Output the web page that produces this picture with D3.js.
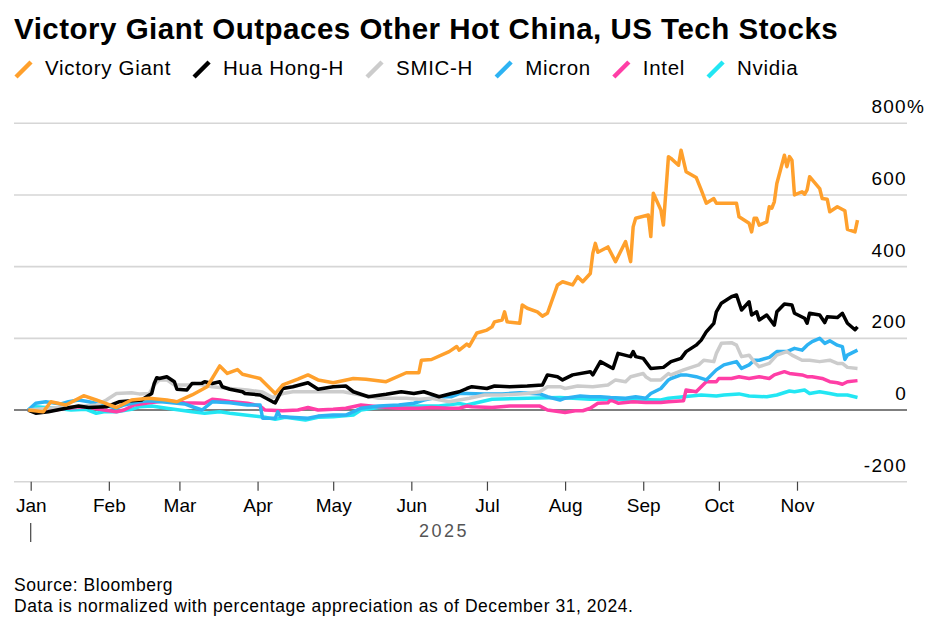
<!DOCTYPE html>
<html>
<head>
<meta charset="utf-8">
<script src="https://cdn.jsdelivr.net/npm/d3@7"></script>
<style>
  body { margin: 0; background: #fff; }
  svg { font-family: "Liberation Sans", Arial, sans-serif; }
</style>
</head>
<body>
<svg id="drawing_region"></svg>
<script>
// % appreciation since Dec 31, 2024
const victoryGiant = [["2024-12-31",0],["2025-01-06",-5],["2025-01-09",23],["2025-01-15",14],["2025-01-22",40],["2025-01-27",28],["2025-02-04",7],["2025-02-10",28],["2025-02-17",33],["2025-02-24",28],["2025-02-28",23],["2025-03-06",42],["2025-03-12",65],["2025-03-17",123],["2025-03-20",102],["2025-03-24",113],["2025-03-26",100],["2025-04-02",88],["2025-04-08",46],["2025-04-11",70],["2025-04-17",86],["2025-04-21",98],["2025-04-25",84],["2025-05-01",76],["2025-05-09",88],["2025-05-14",86],["2025-05-22",79],["2025-05-30",104],["2025-06-04",104],["2025-06-05",139],["2025-06-09",141],["2025-06-16",163],["2025-06-19",177],["2025-06-20",167],["2025-06-23",184],["2025-06-24",178],["2025-06-27",215],["2025-07-01",223],["2025-07-03",232],["2025-07-04",246],["2025-07-07",251],["2025-07-08",274],["2025-07-09",246],["2025-07-14",242],["2025-07-15",293],["2025-07-17",284],["2025-07-21",274],["2025-07-23",262],["2025-07-25",270],["2025-07-29",349],["2025-07-31",358],["2025-08-04",349],["2025-08-06",372],["2025-08-08",358],["2025-08-11",381],["2025-08-12",437],["2025-08-13",465],["2025-08-14",440],["2025-08-18",455],["2025-08-21",414],["2025-08-25",470],["2025-08-27",414],["2025-08-28",511],["2025-08-29",535],["2025-09-03",544],["2025-09-04",484],["2025-09-05",605],["2025-09-08",558],["2025-09-09",516],["2025-09-11",707],["2025-09-12",702],["2025-09-15",683],["2025-09-16",725],["2025-09-18",665],["2025-09-22",649],["2025-09-24",614],["2025-09-26",577],["2025-09-29",590],["2025-09-30",577],["2025-10-08",577],["2025-10-09",539],["2025-10-13",521],["2025-10-14",497],["2025-10-15",535],["2025-10-16",535],["2025-10-17",516],["2025-10-20",525],["2025-10-21",567],["2025-10-22",563],["2025-10-23",581],["2025-10-24",632],["2025-10-27",711],["2025-10-28",679],["2025-10-29",707],["2025-10-30",697],["2025-10-31",600],["2025-11-03",609],["2025-11-04",602],["2025-11-05",614],["2025-11-06",651],["2025-11-10",618],["2025-11-11",590],["2025-11-13",588],["2025-11-14",553],["2025-11-17",567],["2025-11-20",556],["2025-11-21",504],["2025-11-24",497],["2025-11-25",530]];

const huaHong = [["2024-12-31",0],["2025-01-03",-9],["2025-01-08",-5],["2025-01-15",5],["2025-01-20",11],["2025-01-24",7],["2025-01-31",9],["2025-02-05",23],["2025-02-10",26],["2025-02-14",28],["2025-02-18",46],["2025-02-19",74],["2025-02-20",90],["2025-02-21",88],["2025-02-24",93],["2025-02-27",79],["2025-02-28",58],["2025-03-04",56],["2025-03-06",74],["2025-03-10",75],["2025-03-11",79],["2025-03-14",74],["2025-03-17",79],["2025-03-18",65],["2025-03-21",58],["2025-03-26",51],["2025-03-27",46],["2025-04-02",42],["2025-04-07",23],["2025-04-08",20],["2025-04-11",60],["2025-04-15",65],["2025-04-21",76],["2025-04-25",58],["2025-05-01",65],["2025-05-06",67],["2025-05-09",51],["2025-05-15",37],["2025-05-22",44],["2025-05-28",51],["2025-06-02",46],["2025-06-06",51],["2025-06-12",37],["2025-06-17",46],["2025-06-20",51],["2025-06-23",60],["2025-06-25",65],["2025-07-01",60],["2025-07-04",67],["2025-07-10",65],["2025-07-17",67],["2025-07-23",70],["2025-07-25",98],["2025-07-29",93],["2025-07-31",84],["2025-08-04",98],["2025-08-11",107],["2025-08-12",98],["2025-08-15",135],["2025-08-20",116],["2025-08-22",158],["2025-08-27",149],["2025-08-28",163],["2025-08-29",149],["2025-09-01",144],["2025-09-04",116],["2025-09-09",119],["2025-09-12",135],["2025-09-16",144],["2025-09-18",163],["2025-09-22",181],["2025-09-24",195],["2025-09-26",218],["2025-09-29",242],["2025-09-30",274],["2025-10-02",298],["2025-10-06",316],["2025-10-08",321],["2025-10-10",279],["2025-10-13",302],["2025-10-14",265],["2025-10-16",274],["2025-10-17",251],["2025-10-20",265],["2025-10-23",237],["2025-10-24",274],["2025-10-27",296],["2025-10-30",293],["2025-10-31",270],["2025-11-04",256],["2025-11-05",242],["2025-11-06",270],["2025-11-10",265],["2025-11-12",244],["2025-11-13",260],["2025-11-17",258],["2025-11-19",270],["2025-11-21",242],["2025-11-24",224],["2025-11-25",232]];

const smic = [["2024-12-31",0],["2025-01-08",5],["2025-01-20",10],["2025-01-27",14],["2025-01-31",28],["2025-02-04",46],["2025-02-10",48],["2025-02-13",45],["2025-02-17",46],["2025-02-19",70],["2025-02-21",84],["2025-02-24",84],["2025-02-27",70],["2025-03-05",70],["2025-03-07",74],["2025-03-14",65],["2025-03-21",60],["2025-03-28",56],["2025-04-03",50],["2025-04-07",35],["2025-04-11",46],["2025-04-15",51],["2025-04-23",51],["2025-05-05",51],["2025-05-12",42],["2025-05-19",33],["2025-05-26",33],["2025-05-30",33],["2025-06-04",30],["2025-06-09",33],["2025-06-16",23],["2025-06-24",33],["2025-06-30",42],["2025-07-07",42],["2025-07-17",46],["2025-07-22",51],["2025-07-25",65],["2025-07-30",65],["2025-08-01",60],["2025-08-06",67],["2025-08-12",65],["2025-08-18",70],["2025-08-21",84],["2025-08-25",79],["2025-08-27",93],["2025-09-01",102],["2025-09-02",93],["2025-09-04",84],["2025-09-08",84],["2025-09-11",102],["2025-09-12",98],["2025-09-17",112],["2025-09-23",126],["2025-09-25",139],["2025-09-29",135],["2025-09-30",158],["2025-10-02",186],["2025-10-06",188],["2025-10-08",181],["2025-10-10",149],["2025-10-13",153],["2025-10-15",135],["2025-10-17",121],["2025-10-21",130],["2025-10-24",153],["2025-10-28",163],["2025-10-30",153],["2025-11-03",139],["2025-11-06",139],["2025-11-10",135],["2025-11-14",139],["2025-11-17",130],["2025-11-19",130],["2025-11-21",119],["2025-11-25",116]];

const micron = [["2024-12-31",0],["2025-01-03",19],["2025-01-07",23],["2025-01-13",17],["2025-01-16",23],["2025-01-20",28],["2025-01-24",23],["2025-01-30",14],["2025-02-04",5],["2025-02-07",14],["2025-02-13",23],["2025-02-17",26],["2025-02-24",22],["2025-03-03",17],["2025-03-07",7],["2025-03-10",0],["2025-03-14",23],["2025-03-21",20],["2025-03-28",14],["2025-04-02",14],["2025-04-03",-23],["2025-04-08",-23],["2025-04-09",-5],["2025-04-10",-18],["2025-04-14",-20],["2025-04-21",-23],["2025-04-25",-17],["2025-05-01",-14],["2025-05-06",-14],["2025-05-12",5],["2025-05-19",11],["2025-05-27",14],["2025-06-02",19],["2025-06-06",28],["2025-06-12",37],["2025-06-17",37],["2025-06-20",46],["2025-06-23",46],["2025-06-30",45],["2025-07-07",45],["2025-07-14",48],["2025-07-22",45],["2025-07-25",37],["2025-07-30",28],["2025-08-01",33],["2025-08-07",39],["2025-08-11",37],["2025-08-15",37],["2025-08-19",35],["2025-08-25",33],["2025-08-29",37],["2025-09-02",33],["2025-09-04",46],["2025-09-08",60],["2025-09-11",84],["2025-09-12",88],["2025-09-16",98],["2025-09-18",98],["2025-09-22",93],["2025-09-26",84],["2025-09-30",112],["2025-10-03",126],["2025-10-08",135],["2025-10-10",116],["2025-10-13",126],["2025-10-15",139],["2025-10-17",139],["2025-10-21",147],["2025-10-24",163],["2025-10-28",163],["2025-10-31",172],["2025-11-03",167],["2025-11-05",181],["2025-11-07",191],["2025-11-10",200],["2025-11-12",186],["2025-11-14",193],["2025-11-17",181],["2025-11-19",177],["2025-11-20",141],["2025-11-21",153],["2025-11-25",167]];

const intel = [["2024-12-31",0],["2025-01-06",-5],["2025-01-15",5],["2025-01-23",9],["2025-01-30",0],["2025-02-04",-5],["2025-02-07",0],["2025-02-11",14],["2025-02-17",20],["2025-02-24",26],["2025-03-03",20],["2025-03-11",19],["2025-03-14",30],["2025-03-17",28],["2025-03-21",24],["2025-03-28",19],["2025-04-02",11],["2025-04-04",0],["2025-04-11",-2],["2025-04-17",0],["2025-04-21",7],["2025-04-25",0],["2025-05-01",2],["2025-05-06",5],["2025-05-12",14],["2025-05-19",9],["2025-05-27",5],["2025-06-04",5],["2025-06-09",7],["2025-06-16",5],["2025-06-20",5],["2025-06-23",11],["2025-06-25",9],["2025-07-03",7],["2025-07-10",11],["2025-07-17",11],["2025-07-22",11],["2025-07-25",0],["2025-07-30",-5],["2025-08-01",-7],["2025-08-05",-2],["2025-08-08",-2],["2025-08-11",5],["2025-08-14",19],["2025-08-18",20],["2025-08-19",28],["2025-08-22",19],["2025-08-28",23],["2025-09-02",21],["2025-09-08",21],["2025-09-11",23],["2025-09-17",26],["2025-09-18",56],["2025-09-22",51],["2025-09-24",65],["2025-09-26",79],["2025-09-30",79],["2025-10-01",88],["2025-10-06",88],["2025-10-09",93],["2025-10-13",88],["2025-10-17",93],["2025-10-21",88],["2025-10-23",98],["2025-10-27",107],["2025-10-29",102],["2025-11-03",98],["2025-11-05",93],["2025-11-07",93],["2025-11-11",88],["2025-11-14",79],["2025-11-17",76],["2025-11-19",72],["2025-11-21",79],["2025-11-25",82]];

const nvidia = [["2024-12-31",0],["2025-01-03",9],["2025-01-11",5],["2025-01-17",0],["2025-01-23",2],["2025-01-27",-9],["2025-01-30",-5],["2025-02-04",-5],["2025-02-10",2],["2025-02-13",9],["2025-02-18",11],["2025-02-24",5],["2025-03-01",0],["2025-03-06",-5],["2025-03-11",-9],["2025-03-17",-5],["2025-03-21",-9],["2025-03-27",-14],["2025-04-04",-20],["2025-04-08",-26],["2025-04-12",-20],["2025-04-20",-28],["2025-04-25",-20],["2025-05-01",-19],["2025-05-09",-14],["2025-05-12",0],["2025-05-19",7],["2025-05-27",9],["2025-06-04",11],["2025-06-12",11],["2025-06-20",18],["2025-06-23",14],["2025-07-03",30],["2025-07-17",33],["2025-07-30",35],["2025-08-11",30],["2025-08-25",30],["2025-09-08",28],["2025-09-11",33],["2025-09-17",37],["2025-09-24",42],["2025-09-30",39],["2025-10-03",42],["2025-10-09",45],["2025-10-13",39],["2025-10-20",37],["2025-10-24",42],["2025-10-29",53],["2025-10-31",51],["2025-11-04",56],["2025-11-06",46],["2025-11-10",51],["2025-11-14",46],["2025-11-17",42],["2025-11-21",42],["2025-11-25",35]];

const seriesNames = ["Victory Giant", "Hua Hong-H", "SMIC-H", "Micron", "Intel", "Nvidia"];
const seriesData = [victoryGiant, huaHong, smic, micron, intel, nvidia];
const seriesColors = ["#ffa02c", "#000000", "#cccccc", "#2db3f3", "#ff3ea6", "#22e6f3"];
const yTicks = [-200, 0, 200, 400, 600, 800];

const config = {
    width: 941,
    height: 627,
    left: 14,
    right: 907,
    top: 123.3,
    bottom: 481.7
};

const parse = d3.timeParse("%Y-%m-%d");

const svg = d3.select("#drawing_region")
    .attr("width", config.width)
    .attr("height", config.height);

// title
svg.append("text")
    .attr("x", 14).attr("y", 39)
    .attr("font-size", 29.5).attr("font-weight", "bold")
    .attr("letter-spacing", 0.5)
    .attr("fill", "#000")
    .text("Victory Giant Outpaces Other Hot China, US Tech Stocks");

// legend
let lx = 16;
seriesNames.forEach((name, i) => {
    svg.append("line")
        .attr("x1", lx).attr("y1", 77)
        .attr("x2", lx + 15).attr("y2", 62)
        .attr("stroke", seriesColors[i])
        .attr("stroke-width", 4.5);
    const t = svg.append("text")
        .attr("x", lx + 29).attr("y", 75)
        .attr("font-size", 20.5)
        .attr("letter-spacing", 0.7)
        .attr("fill", "#000")
        .text(name);
    lx = lx + 29 + t.node().getComputedTextLength() + 23;
});

// scales
const xscale = d3.scaleTime()
    .domain([parse("2025-01-01"), parse("2025-11-01")])
    .range([30.7, 797]);

const yscale = d3.scaleLinear()
    .domain([-200, 800])
    .range([config.bottom, config.top]);

// gridlines
svg.append("g")
    .selectAll("line")
    .data(yTicks)
    .join("line")
    .attr("x1", config.left).attr("x2", config.right)
    .attr("y1", d => yscale(d)).attr("y2", d => yscale(d))
    .attr("stroke", d => d === 0 ? "#000" : "#d6d6d6")
    .attr("stroke-width", d => d === 0 ? 1.2 : 1.6);

// y labels
svg.append("g")
    .selectAll("text")
    .data(yTicks)
    .join("text")
    .attr("x", config.right)
    .attr("y", d => yscale(d) - 10)
    .attr("text-anchor", "end")
    .attr("font-size", 19)
    .attr("letter-spacing", 1.3)
    .attr("fill", "#000")
    .text(d => d);

svg.append("text")
    .attr("x", config.right)
    .attr("y", yscale(800) - 10)
    .attr("font-size", 19)
    .attr("fill", "#000")
    .text("%");

// x axis
const xaxis = d3.axisBottom(xscale)
    .ticks(d3.timeMonth.every(1))
    .tickFormat(d3.timeFormat("%b"))
    .tickSize(9)
    .tickPadding(8);

const xg = svg.append("g")
    .attr("transform", `translate(0, ${config.bottom})`)
    .call(xaxis);
xg.select(".domain").remove();
xg.selectAll(".tick line").attr("stroke", "#444").attr("stroke-width", 1.2);
xg.selectAll(".tick text")
    .attr("font-family", "Liberation Sans, Arial, sans-serif")
    .attr("font-size", 19)
    .attr("fill", "#000");

// year marker
svg.append("line")
    .attr("x1", xscale(parse("2025-01-01"))).attr("x2", xscale(parse("2025-01-01")))
    .attr("y1", 523).attr("y2", 542)
    .attr("stroke", "#444").attr("stroke-width", 1.2);

svg.append("text")
    .attr("x", (xscale(parse("2025-01-01")) + xscale(parse("2025-11-25"))) / 2)
    .attr("y", 537)
    .attr("text-anchor", "middle")
    .attr("font-size", 18)
    .attr("letter-spacing", 2.5)
    .attr("fill", "#555")
    .text("2025");

// lines
const line = d3.line()
    .x(d => xscale(parse(d[0])))
    .y(d => yscale(d[1]));

const order = [5, 4, 3, 2, 1, 0];
svg.append("g")
    .selectAll("path")
    .data(order)
    .join("path")
    .attr("d", i => line(seriesData[i]))
    .attr("fill", "none")
    .attr("stroke", i => seriesColors[i])
    .attr("stroke-width", 3.5)
    .attr("stroke-linejoin", "round");

// footer
svg.append("text")
    .attr("x", 14).attr("y", 591)
    .attr("font-size", 17.5)
    .attr("letter-spacing", 0.55)
    .attr("fill", "#000")
    .text("Source: Bloomberg");

svg.append("text")
    .attr("x", 14).attr("y", 612)
    .attr("font-size", 17.5)
    .attr("letter-spacing", 0.55)
    .attr("fill", "#000")
    .text("Data is normalized with percentage appreciation as of December 31, 2024.");
</script>
</body>
</html>
